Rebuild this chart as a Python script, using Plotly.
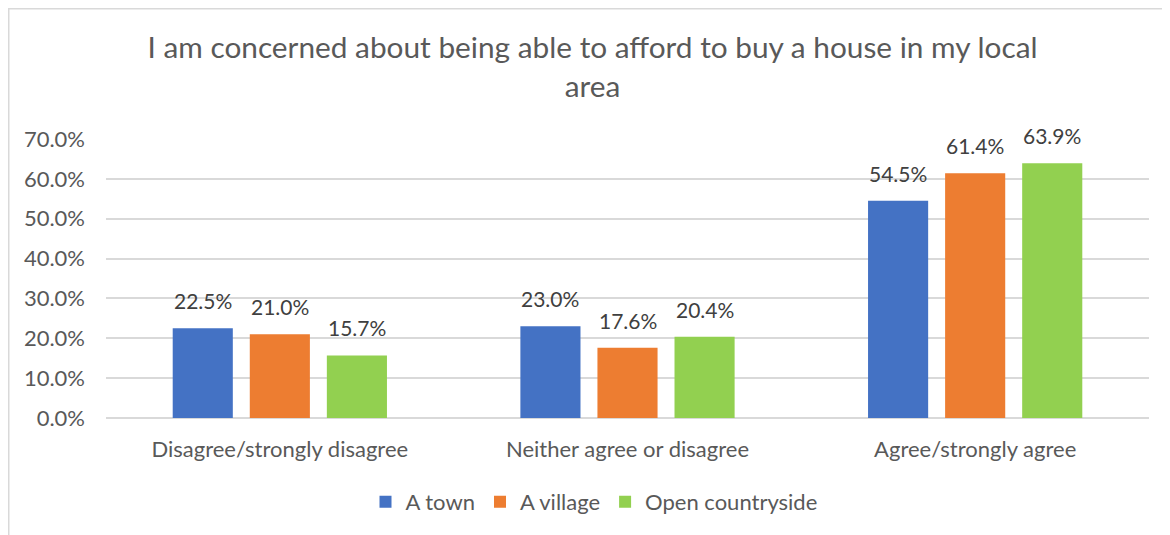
import plotly.graph_objects as go

categories = ["Disagree/strongly disagree", "Neither agree or disagree", "Agree/strongly agree"]
series_names = ["A town", "A village", "Open countryside"]
town = [22.5, 23.0, 54.5]
village = [21.0, 17.6, 61.4]
countryside = [15.7, 20.4, 63.9]
colors = ["#4472C4", "#ED7D31", "#92D050"]
tick_vals = [0, 10, 20, 30, 40, 50, 60, 70]
tick_text = ["0.0%", "10.0%", "20.0%", "30.0%", "40.0%", "50.0%", "60.0%", "70.0%"]

FONT = "Lato"
TXT = "#595959"

# page has an 8px body margin, so figure coords = page coords - 8
W, H = 1162, 527
ML, MR, MT, MB = 98, 21, 131, 117
PW = W - ML - MR
PH = H - MT - MB
BARGAP = 0.335
slot = PW / len(categories) * (1 - BARGAP) / len(series_names)

fig = go.Figure()
annotations = []
all_series = [town, village, countryside]
for i, (name, vals, col) in enumerate(zip(series_names, all_series, colors)):
    fig.add_trace(go.Bar(
        x=categories, y=vals, name=name,
        marker=dict(color=col, line=dict(width=0)),
    ))
    for c, v in zip(categories, vals):
        annotations.append(dict(
            x=c, y=v, xref="x", yref="y", text=f"{v:.1f}%",
            showarrow=False, yanchor="bottom", yshift=13,
            xshift=(i - 1) * slot,
            font=dict(family=FONT, size=21, color="#404040"),
        ))

fig.update_layout(
    width=W, height=H,
    paper_bgcolor="white", plot_bgcolor="white",
    margin=dict(l=ML, r=MR, t=MT, b=MB, autoexpand=False),
    barmode="group", bargap=BARGAP, bargroupgap=0.22,
    title=dict(
        text="I am concerned about being able to afford to buy a house in my local<br>area",
        x=584.5 / W, xanchor="center", y=1 - 50 / H, yanchor="middle",
        font=dict(family=FONT, size=29.8, color=TXT),
    ),
    font=dict(family=FONT, color=TXT),
    yaxis=dict(
        range=[0, 70], tickvals=tick_vals, ticktext=tick_text,
        showgrid=True, gridcolor="#D9D9D9", gridwidth=1.5,
        zeroline=True, zerolinecolor="#D9D9D9", zerolinewidth=1.5,
        tickfont=dict(family=FONT, size=22, color=TXT),
        ticks="", ticklabelstandoff=20,
        showline=False, automargin=False,
    ),
    xaxis=dict(
        tickfont=dict(family=FONT, size=22, color=TXT),
        ticks="outside", ticklen=12, tickcolor="rgba(0,0,0,0)",
        showline=False, automargin=False,
    ),
    legend=dict(
        orientation="h", x=(586 - ML) / PW, xanchor="center",
        y=-(494 - (H - MB)) / PH, yanchor="middle",
        font=dict(family=FONT, size=22, color=TXT),
        itemwidth=30, traceorder="normal",
    ),
    annotations=annotations,
    shapes=[dict(type="rect", xref="paper", yref="paper",
                 x0=(0.75 - ML) / PW, x1=(W + 10 - ML) / PW,
                 y0=-(H + 10 - (H - MB)) / PH, y1=((H - MB) - 0.75) / PH,
                 line=dict(color="#D9D9D9", width=1.5), layer="below")],
)

fig.write_html("out.html")
